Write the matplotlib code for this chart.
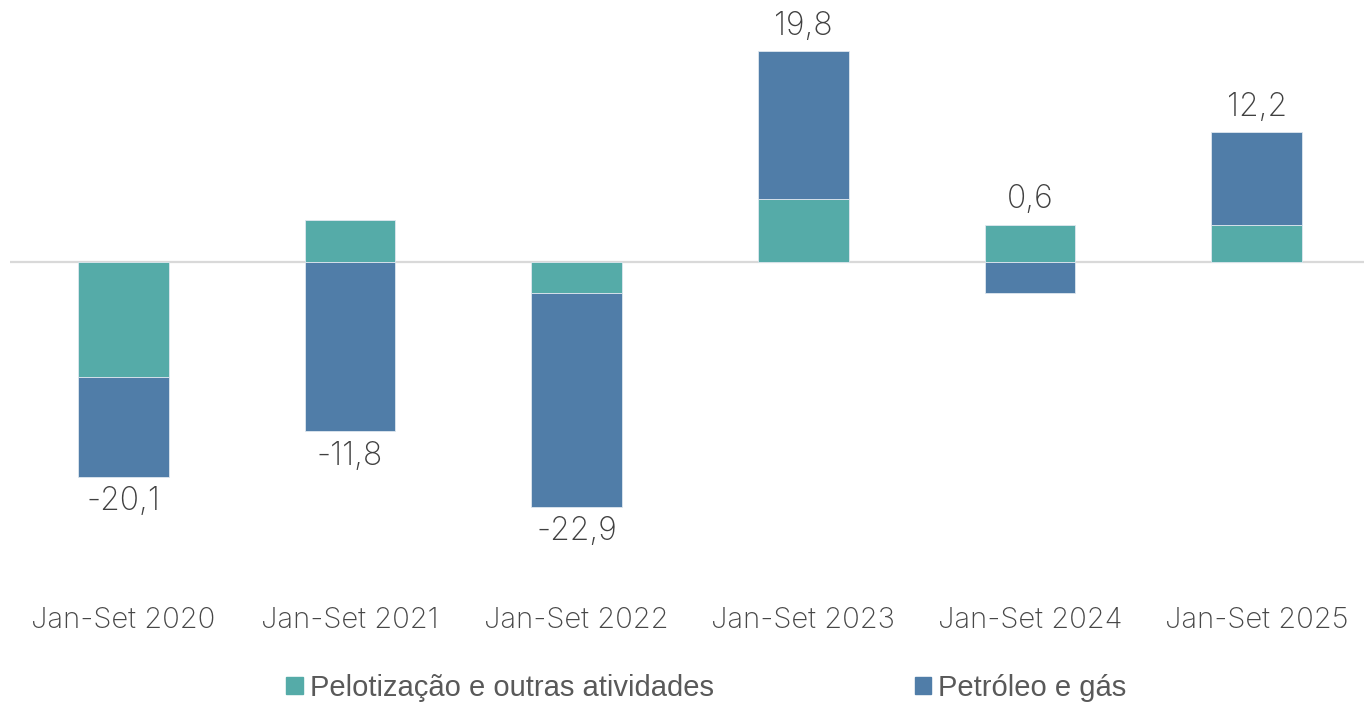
import numpy as np
import matplotlib.pyplot as plt
from matplotlib.patches import Patch

# valores em US$ bilhões (leitura do gráfico)
periodos = ["Jan-Set 2020", "Jan-Set 2021", "Jan-Set 2022",
            "Jan-Set 2023", "Jan-Set 2024", "Jan-Set 2025"]
pelotizacao = [-10.7, 4.0, -2.9, 6.0, 3.5, 3.5]
petroleo = [-9.4, -15.8, -20.0, 13.8, -2.9, 8.7]
totais = [-20.1, -11.8, -22.9, 19.8, 0.6, 12.2]

TEAL = "#55aba8"
BLUE = "#507da8"
TXT = "#404040"

W, H = 1364, 702
fig = plt.figure(figsize=(W / 100, H / 100), dpi=100)
top_px, bot_px = 20, 580
ax = fig.add_axes([10 / W, 1 - bot_px / H, 1360 / W, (bot_px - top_px) / H])

x = np.arange(len(periodos))
pel = np.array(pelotizacao)
pet = np.array(petroleo)

# empilhamento separado para positivos e negativos
pos_base = np.zeros(len(x))
neg_base = np.zeros(len(x))
for vals, cor in [(pel, TEAL), (pet, BLUE)]:
    base = np.where(vals >= 0, pos_base, neg_base)
    ax.bar(x, vals, bottom=base, width=0.4, color=cor,
           edgecolor="#dfe8ef", linewidth=0.6, zorder=2)
    pos_base = pos_base + np.clip(vals, 0, None)
    neg_base = neg_base + np.clip(vals, None, 0)

ax.axhline(0, color="#d9d9d9", lw=1.6, zorder=1)

zero_px = 262.5
scale = 10.66
ax.set_ylim(-(bot_px - zero_px) / scale, (zero_px - top_px) / scale)
ax.set_xlim(-0.5, len(x) - 0.5)

for i, t in enumerate(totais):
    lbl = f"{t:.1f}".replace(".", ",")
    if t >= 0:
        ax.annotate(lbl, (x[i], pos_base[i]), xytext=(0, 7),
                    textcoords="offset points", ha="center", va="bottom",
                    fontsize=23, color=TXT, family="Inter", fontweight="light")
    else:
        ax.annotate(lbl, (x[i], neg_base[i]), xytext=(0, -7),
                    textcoords="offset points", ha="center", va="top",
                    fontsize=23, color=TXT, family="Inter", fontweight="light")

ax.set_xticks(x)
ax.set_xticklabels(periodos, fontsize=21, color="#474747",
                   family="Inter", fontweight="light")
ax.tick_params(axis="x", length=0, pad=19)
ax.set_yticks([])
for s in ax.spines.values():
    s.set_visible(False)

handles = [Patch(color=TEAL, label="Pelotização e outras atividades"),
           Patch(color=BLUE, label="Petróleo e gás")]
leg = fig.legend(handles=handles, loc="center", bbox_to_anchor=(0.518, 0.02),
                 ncol=2, frameon=False, handlelength=0.55, handleheight=0.55,
                 handletextpad=0.25, columnspacing=6.9,
                 prop={"family": "Liberation Sans", "size": 21})
for t in leg.get_texts():
    t.set_color("#595959")

fig.savefig("out.png", dpi=100)
